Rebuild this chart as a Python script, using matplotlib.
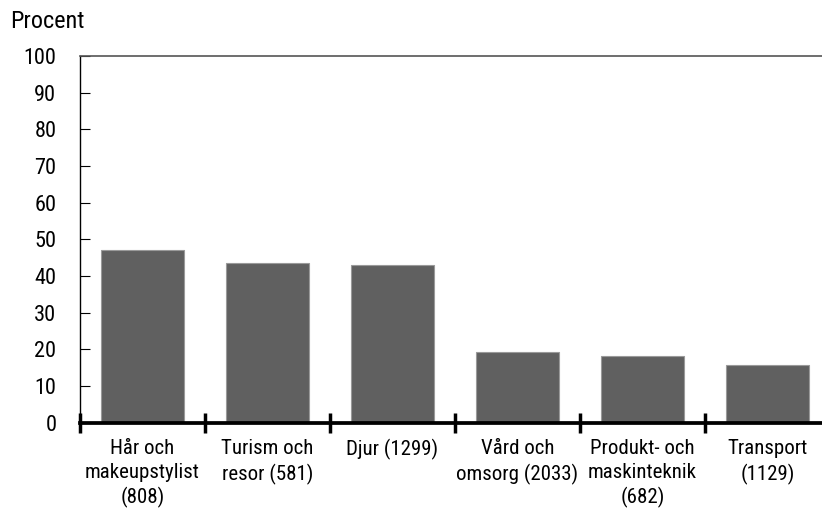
import matplotlib
matplotlib.use('Agg')
import matplotlib.pyplot as plt
import numpy as np

plt.rcParams['font.family'] = ['Liberation Sans Narrow', 'Roboto Condensed', 'DejaVu Sans']
plt.rcParams['font.stretch'] = 'condensed'

# Data
kategorier = ['Hår och\nmakeupstylist\n(808)', 'Turism och\nresor (581)', 'Djur (1299)',
              'Vård och\nomsorg (2033)', 'Produkt- och\nmaskinteknik\n(682)', 'Transport\n(1129)']
procent = [47.2, 43.4, 42.9, 19.3, 18.2, 15.7]
yticks = np.arange(0, 101, 10)

fig = plt.figure(figsize=(8.22, 5.13), dpi=100)
ax = fig.add_axes([0.0973, 0.1764, 0.9124, 0.7144])

x = np.arange(len(kategorier))
ax.bar(x, procent, width=0.664, color='#606060', edgecolor='#9a9a9a', linewidth=0.8, zorder=2)

ax.set_xlim(-0.5, len(kategorier) - 0.5)
ax.set_ylim(0, 100)
ax.set_yticks(yticks)
ax.tick_params(axis='y', direction='in', length=7, width=0.8, pad=17, labelsize=16)

# category labels at centres, tick marks between categories
ax.set_xticks(x)
ax.set_xticklabels(kategorier, fontsize=15, linespacing=1.32)
ax.tick_params(axis='x', which='major', length=0, pad=12)
ax.set_xticks(np.arange(-0.5, len(kategorier), 1.0), minor=True)
ax.tick_params(axis='x', which='minor', direction='inout', length=15, width=2.5)

ax.spines['bottom'].set_linewidth(2.7)
ax.spines['left'].set_linewidth(1.0)
ax.spines['top'].set_linewidth(1.2)
ax.spines['top'].set_color('#555555')
ax.spines['right'].set_visible(False)

fig.text(0.012, 0.958, 'Procent', fontsize=17.5, va='center', ha='left')

fig.savefig('out.png', dpi=100)
